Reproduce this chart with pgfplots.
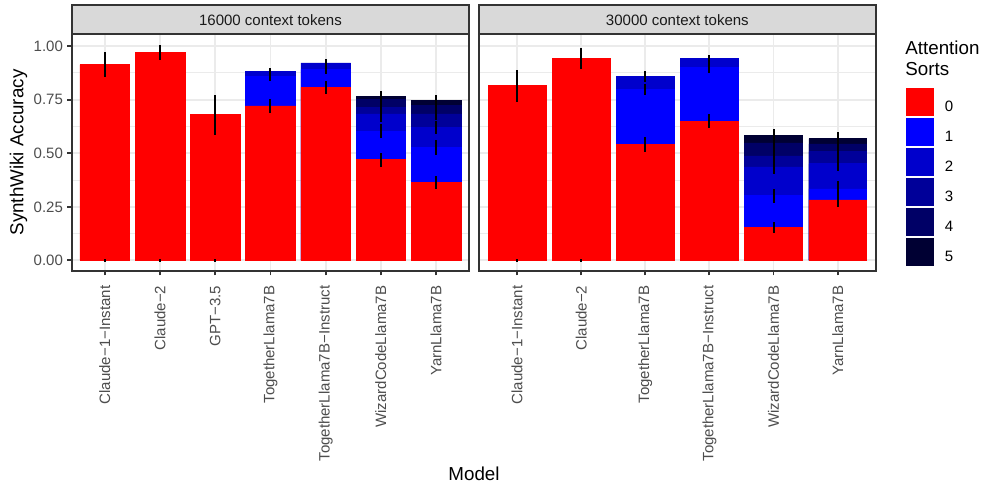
\documentclass[border=0pt]{standalone}
\usepackage{fontspec}
\setmainfont{Liberation Sans}
\usepackage{pgfplots}
\pgfplotsset{compat=1.18}

\definecolor{grey92}{HTML}{EBEBEB}
\definecolor{grey85}{HTML}{D9D9D9}
\definecolor{grey30}{HTML}{4D4D4D}
\definecolor{grey20}{HTML}{333333}
\definecolor{grey10}{HTML}{1A1A1A}
\definecolor{s0}{HTML}{FF0000}
\definecolor{s1}{HTML}{0000FF}
\definecolor{s2}{HTML}{0000CC}
\definecolor{s3}{HTML}{000099}
\definecolor{s4}{HTML}{000066}
\definecolor{s5}{HTML}{000033}

\newlength\px
\setlength\px{0.586pt}

\pgfplotsset{
  panel/.style={
    scale only axis, width=397.5\px, height=236.4\px, anchor=south west,
    ymin=-0.048, ymax=1.055,
    ytick={0,0.25,0.5,0.75,1},
    minor ytick={0.125,0.375,0.625,0.875},
    grid=both,
    major grid style={draw=grey92, line width=1.1pt},
    minor grid style={draw=grey92, line width=0.55pt},
    axis line style={draw=grey20, line width=1.3pt},
    tick align=outside, tick pos=left,
    major tick length=2.75pt, minor tick length=0pt,
    tick style={draw=grey20, line width=1.1pt},
    ticklabel style={font=\fontsize{8.8}{10}\selectfont, text=grey30},
    xticklabel style={rotate=90, anchor=east, inner sep=0pt, xshift=-10\px},
    yticklabel style={inner sep=0pt, xshift=-2.2pt},
    /pgf/number format/assume math mode=true,
    y tick label style={/pgf/number format/fixed, /pgf/number format/fixed zerofill, /pgf/number format/precision=2},
  },
  bar/.style={ybar, bar width=0.9, bar shift=0pt, draw=#1, line width=0.3pt, fill=#1},
  err/.style={draw=none, error bars/y dir=both, error bars/y explicit,
    error bars/error mark=none,
    error bars/error bar style={draw=black, line width=1.2pt}},
}
\tikzset{strip/.style={draw=grey20, fill=grey85, line width=1.3pt, inner sep=0pt,
  minimum width=397.5\px, minimum height=29\px, text=grey10,
  font=\fontsize{8.8}{10}\selectfont}}

\begin{document}
\begin{tikzpicture}
\useasboundingbox (0,0) rectangle (983\px,486\px);

% 16000 context tokens
\begin{axis}[panel, at={(71.7\px,215.3\px)},
  xmin=0.4, xmax=7.6, xtick={1,...,7},
  xticklabels={Claude−1−Instant, Claude−2, GPT−3.5, TogetherLlama7B, TogetherLlama7B−Instruct, WizardCodeLlama7B, YarnLlama7B}]
\addplot[bar=s5] coordinates {(6,0.766) (7,0.746)};
\addplot[bar=s4] coordinates {(6,0.750) (7,0.725)};
\addplot[bar=s3] coordinates {(6,0.714) (7,0.684)};
\addplot[bar=s2] coordinates {(4,0.882) (5,0.922) (6,0.684) (7,0.620)};
\addplot[bar=s1] coordinates {(4,0.857) (5,0.890) (6,0.602) (7,0.527)};
\addplot[bar=s0] coordinates {(1,0.913) (2,0.969) (3,0.680) (4,0.721) (5,0.808) (6,0.470) (7,0.364)};
\addplot[err] coordinates {
  (1,0.913) +- (0,0.058) (2,0.969) +- (0,0.036) (3,0.680) +- (0,0.093)
  (1,0) +- (0,0.006) (2,0) +- (0,0.006) (3,0) +- (0,0.006)
  (4,0.721) +- (0,0.031) (4,0.857) +- (0,0.020) (4,0.882) +- (0,0.018)
  (5,0.808) +- (0,0.030) (5,0.890) +- (0,0.020) (5,0.922) +- (0,0.020)
  (6,0.470) +- (0,0.033) (6,0.602) +- (0,0.033) (6,0.684) +- (0,0.040)
  (6,0.714) +- (0,0.035) (6,0.750) +- (0,0.030) (6,0.766) +- (0,0.025)
  (7,0.364) +- (0,0.032) (7,0.527) +- (0,0.035) (7,0.620) +- (0,0.030)
  (7,0.684) +- (0,0.030) (7,0.725) +- (0,0.030) (7,0.746) +- (0,0.028)};
\end{axis}

% 30000 context tokens
\begin{axis}[panel, at={(478.6\px,215.3\px)},
  xmin=0.4, xmax=6.6, xtick={1,...,6},
  xticklabels={Claude−1−Instant, Claude−2, TogetherLlama7B, TogetherLlama7B−Instruct, WizardCodeLlama7B, YarnLlama7B},
  yticklabels={}, ytick style={draw=none},
  legend style={at={(1.0752,0.7716)}, anchor=north west, draw=none, fill=none,
    inner sep=0pt, outer sep=0pt, row sep=2\px, column sep=11\px,
    nodes={inner sep=0pt}, font=\fontsize{8.8}{10}\selectfont},
  legend cell align=left,
  legend image code/.code={\fill[#1] (0,3.15pt-14\px) rectangle (28\px,3.15pt+14\px);}]
\addplot[forget plot, bar=s5] coordinates {(5,0.582) (6,0.568)};
\addplot[forget plot, bar=s4] coordinates {(5,0.548) (6,0.544)};
\addplot[forget plot, bar=s3] coordinates {(5,0.488) (6,0.507)};
\addplot[forget plot, bar=s2] coordinates {(3,0.858) (4,0.942) (5,0.436) (6,0.451)};
\addplot[forget plot, bar=s1] coordinates {(3,0.797) (4,0.900) (5,0.302) (6,0.334)};
\addplot[forget plot, bar=s0] coordinates {(1,0.815) (2,0.941) (3,0.541) (4,0.650) (5,0.153) (6,0.283)};
\addplot[forget plot, err] coordinates {
  (1,0.815) +- (0,0.075) (2,0.941) +- (0,0.049)
  (1,0) +- (0,0.006) (2,0) +- (0,0.006)
  (3,0.541) +- (0,0.033) (3,0.797) +- (0,0.027) (3,0.858) +- (0,0.024)
  (4,0.650) +- (0,0.031) (4,0.900) +- (0,0.026) (4,0.942) +- (0,0.018)
  (5,0.153) +- (0,0.025) (5,0.302) +- (0,0.033) (5,0.436) +- (0,0.035)
  (5,0.488) +- (0,0.040) (5,0.548) +- (0,0.035) (5,0.582) +- (0,0.032)
  (6,0.283) +- (0,0.033) (6,0.334) +- (0,0.035) (6,0.451) +- (0,0.035)
  (6,0.507) +- (0,0.038) (6,0.544) +- (0,0.033) (6,0.568) +- (0,0.030)};
\addlegendimage{fill=s0, draw=none}\addlegendentry{0}
\addlegendimage{fill=s1, draw=none}\addlegendentry{1}
\addlegendimage{fill=s2, draw=none}\addlegendentry{2}
\addlegendimage{fill=s3, draw=none}\addlegendentry{3}
\addlegendimage{fill=s4, draw=none}\addlegendentry{4}
\addlegendimage{fill=s5, draw=none}\addlegendentry{5}
\end{axis}

\node[strip] at (270.45\px,466.2\px) {16000 context tokens};
\node[strip] at (677.35\px,466.2\px) {30000 context tokens};

\node[rotate=90, font=\fontsize{11}{13}\selectfont] at (18.5\px,333.5\px) {SynthWiki Accuracy};
\node[font=\fontsize{11}{13}\selectfont] at (474\px,12.5\px) {Model};
\node[anchor=base west, inner sep=0pt, font=\fontsize{11}{13}\selectfont] at (905\px,431\px) {Attention};
\node[anchor=base west, inner sep=0pt, font=\fontsize{11}{13}\selectfont] at (905\px,410\px) {Sorts};
\end{tikzpicture}
\end{document}
